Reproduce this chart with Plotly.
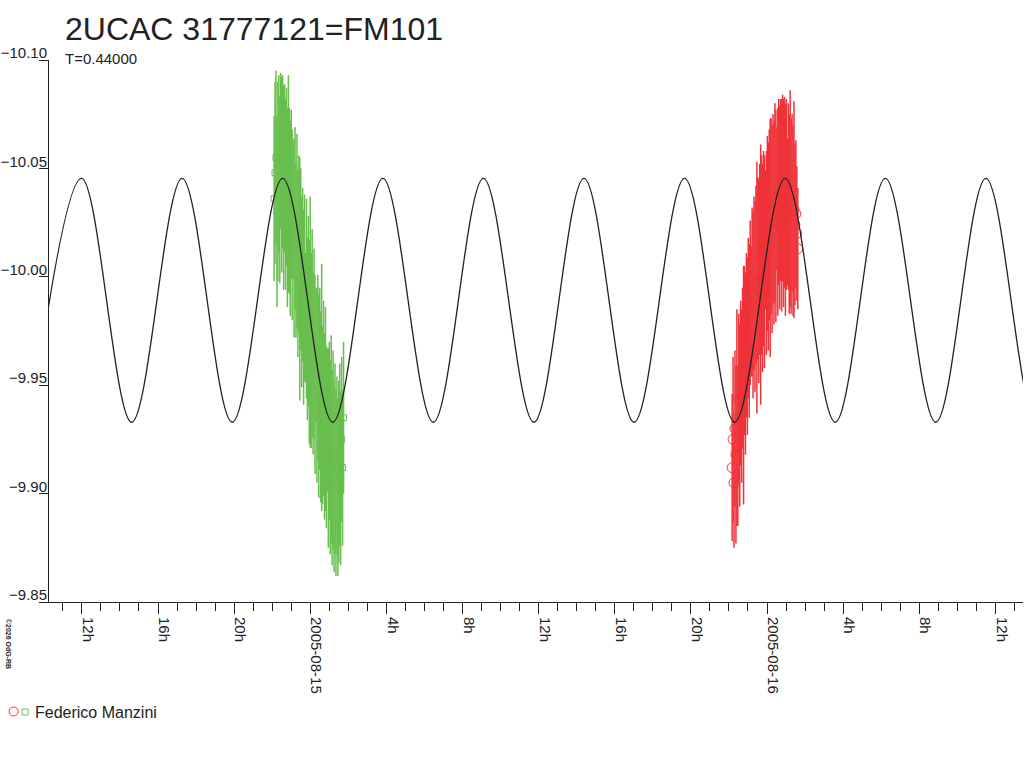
import pandas as pd
import plotly.graph_objects as go

# fitted light curve: times of maxima / minima and their magnitudes
peak_times = ["2005-08-14 11:59", "2005-08-14 17:16", "2005-08-14 22:33",
              "2005-08-15 03:49", "2005-08-15 09:06", "2005-08-15 14:23",
              "2005-08-15 19:40", "2005-08-16 00:57", "2005-08-16 06:13",
              "2005-08-16 11:30", "2005-08-16 16:47"]
trough_times = ["2005-08-14 09:21", "2005-08-14 14:37", "2005-08-14 19:54",
                "2005-08-15 01:11", "2005-08-15 06:28", "2005-08-15 11:45",
                "2005-08-15 17:01", "2005-08-15 22:18", "2005-08-16 03:35",
                "2005-08-16 08:52", "2005-08-16 14:09"]
peak_mag = -10.0454
trough_mag = -9.9329

# first night (green squares), minutes after 2005-08-14 22:00
green_start = "2005-08-14 22:00"
green_min = [6, 9, 12, 15, 18, 21, 24, 27, 30, 33, 36, 39, 42, 45, 48, 51, 54, 57,
             60, 63, 66, 69, 72, 75, 78, 81, 84, 87, 90, 93, 96, 99, 102, 105, 108,
             111, 114, 117, 120, 123, 126, 129, 132, 135, 138, 141, 144, 147, 150,
             153, 156, 159, 162, 165, 168, 171, 174, 177, 180, 183, 186, 189, 192,
             195, 198, 201, 204, 207, 210, 213, 216, 219, 222, 225]
green_mag = [-10.036, -10.048, -10.055, -10.030, -10.044, -10.052, -10.040, -10.058,
             -10.047, -10.053, -10.041, -10.050, -10.038, -10.046, -10.032, -10.043,
             -10.035, -10.027, -10.038, -10.024, -10.031, -10.018, -10.027, -10.012,
             -10.021, -10.006, -10.015, -9.999, -10.008, -9.993, -10.001, -9.986,
             -9.995, -9.981, -9.990, -9.976, -9.984, -9.970, -9.979, -9.966, -9.974,
             -9.960, -9.969, -9.955, -9.964, -9.950, -9.958, -9.945, -9.953, -9.940,
             -9.949, -9.936, -9.944, -9.931, -9.939, -9.926, -9.934, -9.921, -9.929,
             -9.917, -9.925, -9.912, -9.920, -9.908, -9.916, -9.905, -9.913, -9.903,
             -9.910, -9.918, -9.907, -9.925, -9.912, -9.935]
green_err = [0.038, 0.042, 0.040, 0.044, 0.046, 0.041, 0.043, 0.036, 0.045, 0.040,
             0.047, 0.039, 0.044, 0.041, 0.046, 0.050, 0.043, 0.045, 0.039, 0.044,
             0.032, 0.046, 0.042, 0.040, 0.045, 0.043, 0.041, 0.056, 0.042, 0.044,
             0.040, 0.045, 0.043, 0.030, 0.046, 0.042, 0.044, 0.047, 0.058, 0.045,
             0.048, 0.042, 0.044, 0.046, 0.031, 0.045, 0.043, 0.047, 0.042, 0.044,
             0.057, 0.041, 0.045, 0.043, 0.047, 0.042, 0.033, 0.046, 0.041, 0.045,
             0.048, 0.045, 0.046, 0.044, 0.044, 0.043, 0.041, 0.041, 0.042, 0.042,
             0.040, 0.038, 0.036, 0.035]

# second night (red circles), minutes after 2005-08-15 22:00
red_start = "2005-08-15 22:00"
red_min = [10, 13, 16, 19, 22, 25, 28, 31, 34, 37, 40, 43, 46, 49, 52, 55, 58, 61,
           64, 67, 70, 73, 76, 79, 82, 85, 88, 91, 94, 97, 100, 103, 106, 109, 112,
           115, 118, 121, 124, 127, 130, 133, 136, 139, 142, 145, 148, 151, 154,
           157, 160, 163, 166, 169, 172, 175, 178, 181, 184, 187, 190, 193, 196,
           199, 202, 205, 208, 211, 214, 217]
red_mag = [-9.912, -9.925, -9.905, -9.930, -9.918, -9.935, -9.922, -9.944, -9.936,
           -9.951, -9.945, -9.958, -9.950, -9.966, -9.960, -9.973, -9.968, -9.981,
           -9.975, -9.988, -9.984, -9.993, -9.987, -9.997, -9.991, -10.001, -9.995,
           -10.004, -9.998, -10.008, -10.001, -10.010, -10.004, -10.013, -10.007,
           -10.017, -10.011, -10.020, -10.014, -10.024, -10.018, -10.028, -10.022,
           -10.031, -10.025, -10.034, -10.028, -10.036, -10.030, -10.039, -10.032,
           -10.040, -10.033, -10.041, -10.034, -10.039, -10.031, -10.038, -10.030,
           -10.037, -10.029, -10.036, -10.028, -10.034, -10.026, -10.031, -10.024,
           -10.029, -10.020, -10.013]
red_err = [0.034, 0.038, 0.030, 0.036, 0.041, 0.050, 0.037, 0.039, 0.042, 0.038,
           0.040, 0.037, 0.055, 0.039, 0.042, 0.038, 0.041, 0.037, 0.040, 0.038,
           0.030, 0.039, 0.043, 0.040, 0.044, 0.041, 0.058, 0.042, 0.047, 0.044,
           0.060, 0.046, 0.048, 0.045, 0.049, 0.032, 0.047, 0.045, 0.048, 0.044,
           0.055, 0.045, 0.048, 0.044, 0.047, 0.046, 0.049, 0.033, 0.048, 0.043,
           0.047, 0.042, 0.049, 0.043, 0.048, 0.044, 0.049, 0.044, 0.034, 0.043,
           0.046, 0.050, 0.045, 0.041, 0.044, 0.050, 0.037, 0.034, 0.031, 0.028]

y_ticks = [-10.10, -10.05, -10.00, -9.95, -9.90, -9.85]
x_tickvals = ["2005-08-14 12:00", "2005-08-14 16:00", "2005-08-14 20:00",
              "2005-08-15 00:00", "2005-08-15 04:00", "2005-08-15 08:00",
              "2005-08-15 12:00", "2005-08-15 16:00", "2005-08-15 20:00",
              "2005-08-16 00:00", "2005-08-16 04:00", "2005-08-16 08:00",
              "2005-08-16 12:00"]
x_ticktext = ["12h", "16h", "20h", "2005-08-15", "4h", "8h", "12h", "16h", "20h",
              "2005-08-16", "4h", "8h", "12h"]

GREEN = "rgb(104,190,78)"
RED = "rgb(238,51,57)"
INK = "#222222"
FONT = "Arial, Liberation Sans, sans-serif"

W, H = 1024, 768
L, R, T, B = 45, 1, 60, 166


def px(x):
    return (x - L) / (W - L - R)


def py(y):
    return (H - B - y) / (H - T - B)


curve = pd.DataFrame({
    "t": pd.to_datetime(peak_times + trough_times),
    "m": [peak_mag] * len(peak_times) + [trough_mag] * len(trough_times),
}).sort_values("t")

green_t = pd.Timestamp(green_start) + pd.to_timedelta(green_min, unit="min")
red_t = pd.Timestamp(red_start) + pd.to_timedelta(red_min, unit="min")

fig = go.Figure()


def add_obs(t, mag, err, color, symbol, size):
    # markers first, then the error bars on top of them (as in the original)
    fig.add_trace(go.Scatter(
        x=t, y=mag, mode="markers",
        marker=dict(symbol=symbol, size=size, color=color, line=dict(width=1, color=color)),
        showlegend=False, hoverinfo="skip"))
    fig.add_trace(go.Scatter(
        x=t, y=mag, mode="markers",
        marker=dict(size=2, color=color, opacity=0),
        error_y=dict(type="data", array=err, color=color, thickness=1.5, width=0),
        showlegend=False))


add_obs(green_t, green_mag, green_err, GREEN, "square-open", 6)
add_obs(red_t, red_mag, red_err, RED, "circle-open", 10)

fig.add_trace(go.Scatter(
    x=curve.t, y=curve.m, mode="lines",
    line=dict(color=INK, width=1.3, shape="spline", smoothing=1),
    showlegend=False))

fig.update_layout(
    width=W, height=H,
    margin=dict(l=L, r=R, t=T, b=B, pad=0),
    plot_bgcolor="white", paper_bgcolor="white",
    font=dict(family=FONT, color=INK, size=15),
)

fig.update_xaxes(
    range=["2005-08-14 10:16:23", "2005-08-16 13:27"],
    tickmode="array", tickvals=x_tickvals, ticktext=x_ticktext,
    tickangle=90, ticks="outside", ticklen=11, tickcolor=INK,
    ticklabelshift=6,
    minor=dict(dtick=3600000, ticks="outside", ticklen=8, tickcolor=INK, showgrid=False),
    showline=True, linecolor=INK, linewidth=1,
    showgrid=False, zeroline=False,
    tickfont=dict(size=15, color=INK, family=FONT),
)

fig.update_yaxes(
    range=[-9.85, -10.10],
    tickmode="array", tickvals=y_ticks, tickformat=".2f",
    ticks="outside", ticklen=9, tickcolor=INK,
    ticklabelstandoff=-11, ticklabelshift=7,
    showline=True, linecolor=INK, linewidth=1,
    showgrid=False, zeroline=False,
    tickfont=dict(size=15, color=INK, family=FONT),
)

# title, subtitle, observer legend and credit
fig.add_annotation(text="2UCAC 31777121=FM101", xref="paper", yref="paper",
                   x=px(59), y=py(29), xanchor="left", yanchor="middle",
                   showarrow=False, font=dict(size=32, color=INK, family=FONT))
fig.add_annotation(text="T=0.44000", xref="paper", yref="paper",
                   x=px(59), y=py(58), xanchor="left", yanchor="middle",
                   showarrow=False, font=dict(size=15, color=INK, family=FONT))
fig.add_annotation(text="Federico Manzini", xref="paper", yref="paper",
                   x=px(29), y=py(712), xanchor="left", yanchor="middle",
                   showarrow=False, font=dict(size=16, color=INK, family=FONT))
fig.add_annotation(text="<b>©2026 OdG-RB</b>", xref="paper", yref="paper",
                   x=px(5), y=py(644), xanchor="center", yanchor="middle",
                   textangle=90, showarrow=False,
                   font=dict(size=7, color=INK, family=FONT))

fig.add_shape(type="circle", xref="paper", yref="paper",
              x0=px(5), x1=px(14), y0=py(716), y1=py(707),
              line=dict(color=RED, width=1))
fig.add_shape(type="rect", xref="paper", yref="paper",
              x0=px(18), x1=px(24), y0=py(715), y1=py(709),
              line=dict(color=GREEN, width=1))

# the page body has a default 8px margin; drop it so the figure sits at (0, 0)
fig.write_html("out.html",
               config={"displayModeBar": False},
               post_script="document.body.style.margin='0';"
                           "document.body.style.overflow='hidden';")
